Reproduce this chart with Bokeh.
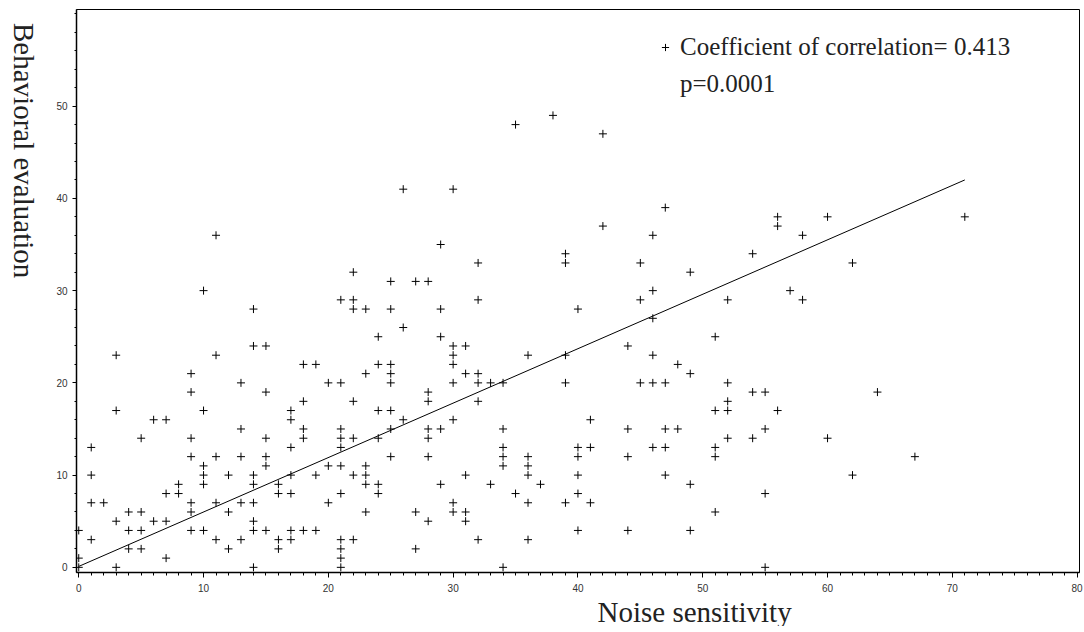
import math
from bokeh.plotting import figure
from bokeh.layouts import row
from bokeh.models import FixedTicker, Legend, LegendItem, ColumnDataSource, Range1d, Title
from bokeh.core.properties import value
from bokeh.embed import file_html
from bokeh.resources import INLINE

# ---- data ----
noise_sensitivity = [
    0, 0, 0, 1, 1, 1, 1, 2, 3, 3, 3, 3, 4, 4, 4, 5, 5, 5, 5, 6, 6, 7, 7, 7, 7, 8, 8,
    9, 9, 9, 9, 9, 9, 9, 10, 10, 10, 10, 10, 10, 11, 11, 11, 11, 11, 12, 12, 12,
    13, 13, 13, 13, 13, 14, 14, 14, 14, 14, 14, 14, 14, 15, 15, 15, 15, 15, 15,
    16, 16, 16, 16, 17, 17, 17, 17, 17, 17, 17, 18, 18, 18, 18, 18, 19, 19, 19,
    20, 20, 20, 21, 21, 21, 21, 21, 21, 21, 21, 21, 21, 21, 22, 22, 22, 22, 22, 22, 22,
    23, 23, 23, 23, 23, 23, 24, 24, 24, 24, 24, 24, 25, 25, 25, 25, 25, 25, 25, 25,
    26, 26, 26, 27, 27, 27, 28, 28, 28, 28, 28, 28, 28, 29, 29, 29, 29, 29,
    30, 30, 30, 30, 30, 30, 30, 30, 31, 31, 31, 31, 31, 32, 32, 32, 32, 32, 32, 33, 33,
    34, 34, 34, 34, 34, 34, 35, 35, 36, 36, 36, 36, 36, 36, 37, 38, 39, 39, 39, 39, 39,
    40, 40, 40, 40, 40, 40, 41, 41, 41, 42, 42, 44, 44, 44, 44, 45, 45, 45,
    46, 46, 46, 46, 46, 46, 47, 47, 47, 47, 47, 48, 48, 49, 49, 49, 49,
    51, 51, 51, 51, 51, 52, 52, 52, 52, 52, 54, 54, 54, 55, 55, 55, 55, 56, 56, 56, 57,
    58, 58, 60, 60, 62, 62, 64, 67, 71,
]
behavioral_evaluation = [
    0, 1, 4, 3, 7, 10, 13, 7, 0, 5, 17, 23, 2, 4, 6, 2, 4, 6, 14, 5, 16, 1, 5, 8, 16, 8, 9,
    4, 6, 7, 12, 14, 19, 21, 4, 9, 10, 11, 17, 30, 3, 7, 12, 23, 36, 2, 6, 10,
    3, 7, 12, 15, 20, 0, 4, 5, 7, 9, 10, 24, 28, 4, 11, 12, 14, 19, 24,
    2, 3, 8, 9, 3, 4, 8, 10, 13, 16, 17, 4, 14, 15, 18, 22, 4, 10, 22,
    7, 11, 20, 0, 1, 2, 3, 8, 11, 13, 14, 15, 20, 29, 3, 10, 14, 18, 28, 29, 32,
    6, 9, 10, 11, 21, 28, 8, 9, 14, 17, 22, 25, 12, 15, 17, 20, 21, 22, 28, 31,
    16, 26, 41, 2, 6, 31, 5, 12, 14, 15, 18, 19, 31, 9, 15, 25, 28, 35,
    6, 7, 16, 20, 22, 23, 24, 41, 5, 6, 10, 21, 24, 3, 18, 20, 21, 29, 33, 9, 20,
    0, 11, 12, 13, 15, 20, 8, 48, 3, 7, 10, 11, 12, 23, 9, 49, 7, 20, 23, 33, 34,
    4, 8, 10, 12, 13, 28, 7, 13, 16, 37, 47, 4, 12, 15, 24, 20, 29, 33,
    13, 20, 23, 27, 30, 36, 10, 13, 15, 20, 39, 15, 22, 4, 9, 21, 32,
    6, 12, 13, 17, 25, 14, 17, 18, 20, 29, 14, 19, 34, 0, 8, 15, 19, 17, 37, 38, 30,
    29, 36, 14, 38, 10, 33, 19, 12, 38,
]
assert len(noise_sensitivity) == len(behavioral_evaluation)

# fitted regression line endpoints (as drawn in the reference)
fit_x = [0, 71]
fit_y = [0.1, 42.0]

x_ticks = [0, 10, 20, 30, 40, 50, 60, 70, 80]
y_ticks = [0, 10, 20, 30, 40, 50]

legend_text_1 = "Coefficient of correlation= 0.413"
legend_text_2 = "p=0.0001"
x_title = "Noise sensitivity"
y_title = "Behavioral evaluation"

TITLE_FONT = "Liberation Serif"

# ---- narrow strip holding the vertical y-axis title (reads top to bottom) ----
LEFT_W = 40
CANVAS_H = 632
strip = figure(width=LEFT_W, height=CANVAS_H, title=None,
               x_range=Range1d(0, LEFT_W), y_range=Range1d(0, CANVAS_H),
               min_border=0, x_axis_type=None, y_axis_type=None,
               output_backend="svg", toolbar_location=None,
               background_fill_color="white", border_fill_color="white")
strip.grid.visible = False
strip.outline_line_color = None
strip.text(x=[23], y=[CANVAS_H - 15], text=[y_title], angle=-math.pi / 2,
           text_align="left", text_baseline="middle",
           text_font=value(TITLE_FONT), text_font_size="29px",
           text_color="#222222")

# ---- main scatter figure ----
p = figure(frame_width=1003, frame_height=563, title=None,
           min_border_left=76 - LEFT_W, min_border_right=5, min_border_top=9,
           min_border_bottom=0,
           x_range=Range1d(-0.18, 80.19), y_range=Range1d(-0.56, 60.48),
           output_backend="svg", toolbar_location=None,
           background_fill_color="white", border_fill_color="white")

p.grid.visible = False
p.outline_line_color = "black"
p.outline_line_width = 1

src = ColumnDataSource(dict(x=noise_sensitivity, y=behavioral_evaluation))
pts = p.scatter("x", "y", source=src, marker="cross", size=8,
                line_color="black", line_width=1)
p.line(fit_x, fit_y, line_color="black", line_width=1)

dummy = p.scatter(x=[], y=[], marker="cross", size=8, alpha=0)

# axes
p.xaxis.ticker = FixedTicker(ticks=x_ticks, minor_ticks=list(range(0, 81)))
p.yaxis.ticker = FixedTicker(ticks=y_ticks, minor_ticks=list(range(0, 61, 2)))
for ax in (p.xaxis[0], p.yaxis[0]):
    ax.axis_line_color = "black"
    ax.axis_line_width = 1.5
    ax.major_tick_line_color = "black"
    ax.minor_tick_line_color = "black"
    ax.major_tick_in = 0
    ax.minor_tick_in = 0
    ax.major_label_text_font = "Liberation Sans"
    ax.major_label_text_font_size = "10px"
    ax.major_label_text_color = "#333333"
p.xaxis.major_tick_out = 5
p.xaxis.minor_tick_out = 3
p.yaxis.major_tick_out = 4
p.yaxis.minor_tick_out = 2
p.xaxis.major_label_standoff = 6
p.yaxis.major_label_standoff = 5

# x axis title as a title below the axis
p.add_layout(Title(text=x_title, align="left", offset=521, standoff=-2,
                   text_font=TITLE_FONT, text_font_size="29px",
                   text_font_style="normal", text_color="#222222"), "below")

# legend
legend = Legend(items=[LegendItem(label=legend_text_1, renderers=[pts]),
                       LegendItem(label=legend_text_2, renderers=[dummy])],
                location=(580, 474), orientation="vertical",
                padding=0, margin=0, spacing=9,
                glyph_width=18, glyph_height=28, label_height=28, label_standoff=6,
                label_text_font=TITLE_FONT, label_text_font_size="25px",
                label_text_color="#222222",
                border_line_color=None, background_fill_color=None)
p.add_layout(legend)

layout = row(strip, p, spacing=0)
open("out.html", "w").write(file_html(layout, INLINE))
